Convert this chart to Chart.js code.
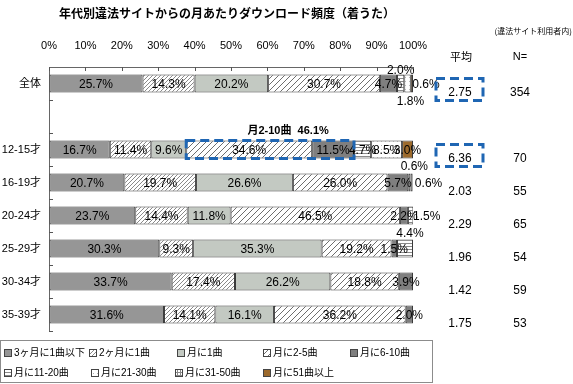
<!DOCTYPE html>
<html>
<head>
<meta charset="utf-8">
<script src="https://cdn.jsdelivr.net/npm/chart.js@4"></script>
<style>
  body { margin: 0; background: #fff; }
  #wrap { width: 573px; height: 384px; position: relative; }
</style>
</head>
<body>
<div id="wrap"><canvas id="c"></canvas></div>
<script>
// ==== data ====
const categories = ['全体', '', '12-15才', '16-19才', '20-24才', '25-29才', '30-34才', '35-39才'];
const seriesNames = ['3ヶ月に1曲以下', '2ヶ月に1曲', '月に1曲', '月に2-5曲', '月に6-10曲',
                     '月に11-20曲', '月に21-30曲', '月に31-50曲', '月に51曲以上'];
const v3months  = [25.7, null, 16.7, 20.7, 23.7, 30.3, 33.7, 31.6];
const v2months  = [14.3, null, 11.4, 19.7, 14.4,  9.3, 17.4, 14.1];
const v1        = [20.2, null,  9.6, 26.6, 11.8, 35.3, 26.2, 16.1];
const v2to5     = [30.7, null, 34.6, 26.0, 46.5, 19.2, 18.8, 36.2];
const v6to10    = [ 4.7, null, 11.5,  5.7,  2.2,  1.5,  3.9,  2.0];
const v11to20   = [ 2.0, null,  4.7,  0.6,  1.5,  4.4,  0,    0  ];
const v21to30   = [ 1.8, null,  8.5,  0.6,  0,    0,    0,    0  ];
const v31to50   = [ 0,   null,  0,    0,    0,    0,    0,    0  ];
const v51plus   = [ 0.6, null,  3.0,  0,    0,    0,    0,    0  ];
const avgValues = ['2.75', '', '6.36', '2.03', '2.29', '1.96', '1.42', '1.75'];
const nCounts   = ['354', '', '70', '55', '65', '54', '59', '53'];
const xTicks    = [0, 10, 20, 30, 40, 50, 60, 70, 80, 90, 100];

// small labels that Excel moved off their segment (row-series)
const labelNudge = {
  '0-5': {dx: 0, dy: -14}, '0-6': {dx: 3, dy: 17}, '0-8': {dx: 14, dy: 0},
  '3-5': {dx: 5, dy: -17}, '3-6': {dx: 17, dy: 0},
  '4-5': {dx: 16, dy: 0},  '5-5': {dx: 5, dy: -16}
};

const NUM_FONT = "'Liberation Sans', Arial, sans-serif";
const JP_FONT = "'Liberation Sans', 'Noto Sans CJK JP', sans-serif";

// ==== fill patterns ====
function makePattern(size, bg, fg, pixels) {
  const c = document.createElement('canvas');
  c.width = size; c.height = size;
  const g = c.getContext('2d');
  g.fillStyle = bg; g.fillRect(0, 0, size, size);
  g.fillStyle = fg;
  pixels.forEach(p => g.fillRect(p[0], p[1], 1, 1));
  return g.createPattern(c, 'repeat');
}
const patFineDiag = makePattern(4, '#fff', '#8a8a8a', [[0,3],[1,2],[2,1],[3,0]]);
const patWideDiag = makePattern(6, '#fff', '#6e6e6e', [[0,5],[1,4],[2,3],[3,2],[4,1],[5,0]]);
const patHLines = makePattern(3, '#fff', '#8a8a8a', [[0,0],[1,0],[2,0]]);
const patDots = makePattern(4, '#fff', '#b0b0b0', [[1,1]]);
const patGrid = makePattern(3, '#fff', '#8a8a8a', [[0,0],[1,0],[2,0],[0,1],[0,2]]);

const fills = ['#969696', patFineDiag, '#c3c9c2', patWideDiag, '#7f7f7f',
               patHLines, patDots, patGrid, '#9c6a2c'];
const seriesData = [v3months, v2months, v1, v2to5, v6to10, v11to20, v21to30, v31to50, v51plus];

const datasets = seriesData.map((d, i) => ({
  label: seriesNames[i],
  data: d,
  backgroundColor: fills[i],
  borderColor: '#3a3a3a',
  borderWidth: 1,
  borderSkipped: false,
  barPercentage: 0.55,
  categoryPercentage: 1
}));

// ==== extra drawing ====
const extrasPlugin = {
  id: 'extras',
  afterDatasetsDraw(chart) {
    const ctx = chart.ctx;
    const xs = chart.scales.x, ys = chart.scales.y;
    const area = chart.chartArea;
    ctx.save();

    // inside tick marks
    ctx.strokeStyle = '#555';
    ctx.lineWidth = 1;
    xTicks.forEach(t => {
      const px = Math.round(xs.getPixelForValue(t)) + 0.5;
      ctx.beginPath(); ctx.moveTo(px, area.top); ctx.lineTo(px, area.top + 4); ctx.stroke();
    });
    const step = ys.getPixelForValue(1) - ys.getPixelForValue(0);
    for (let i = 0; i < categories.length; i++) {
      const py = Math.round(ys.getPixelForValue(i) + step / 2) + 0.5;
      ctx.beginPath(); ctx.moveTo(area.left, py); ctx.lineTo(area.left + 4, py); ctx.stroke();
    }

    // segment labels
    ctx.fillStyle = '#000';
    ctx.font = '12px ' + NUM_FONT;
    ctx.textAlign = 'center';
    ctx.textBaseline = 'middle';
    chart.data.datasets.forEach((ds, s) => {
      chart.getDatasetMeta(s).data.forEach((bar, i) => {
        const v = ds.data[i];
        if (!v) return;
        const n = labelNudge[i + '-' + s] || {dx: 0, dy: 0};
        const cx = (bar.x + bar.base) / 2 + n.dx;
        ctx.fillText(v.toFixed(1) + '%', cx, bar.y + n.dy + 1);
      });
    });

    // average and N columns
    ctx.font = '12px ' + NUM_FONT;
    categories.forEach((c, i) => {
      const py = ys.getPixelForValue(i) + 9;
      ctx.fillText(avgValues[i], 460, py);
      ctx.fillText(nCounts[i], 520, py);
    });
    ctx.font = '11px ' + JP_FONT;
    ctx.fillText('平均', 461, 58);
    ctx.fillText('N=', 520, 57);

    // highlight: 月2-10曲 on 12-15才
    const b0 = chart.getDatasetMeta(3).data[2];
    const b1 = chart.getDatasetMeta(4).data[2];
    const sum = v2to5[2] + v6to10[2];
    ctx.strokeStyle = '#1f66b3';
    ctx.lineWidth = 3;
    ctx.setLineDash([9, 5]);
    const top = b0.y - b0.height / 2, bot = b0.y + b0.height / 2;
    ctx.strokeRect(b0.base, top, b1.x - b0.base, bot - top);
    [0, 2].forEach(i => {
      const py = ys.getPixelForValue(i);
      ctx.strokeRect(436, py - 5, 47, 22);
    });
    ctx.setLineDash([]);
    ctx.font = 'bold 11px ' + JP_FONT;
    ctx.fillStyle = '#000';
    ctx.fillText('月2-10曲  ' + sum.toFixed(1) + '%', (b0.base + b1.x) / 2 + 18, top - 9);

    // title
    ctx.font = 'bold 12px "Noto Sans CJK JP", sans-serif';
    ctx.fillText('年代別違法サイトからの月あたりダウンロード頻度（着うた）', 227, 13);
    ctx.font = '8px "Noto Sans CJK JP", sans-serif';
    ctx.textAlign = 'right';
    ctx.fillText('(違法サイト利用者内)', 572, 31);

    // legend
    ctx.strokeStyle = '#8c8c8c';
    ctx.lineWidth = 1;
    ctx.strokeRect(0.5, 340.5, 432, 42);
    const legendCols = [[4, 89, 177, 263, 350], [4, 91, 175, 263]];
    const legendRows = [353, 373];
    let k = 0;
    ctx.textAlign = 'left';
    ctx.font = '10px ' + JP_FONT;
    legendCols.forEach((cols, r) => {
      cols.forEach(lx => {
        const ly = legendRows[r];
        ctx.fillStyle = fills[k];
        ctx.fillRect(lx, ly - 4, 7, 7);
        ctx.strokeStyle = '#444';
        ctx.strokeRect(lx + 0.5, ly - 3.5, 7, 7);
        ctx.fillStyle = '#000';
        ctx.fillText(seriesNames[k], lx + 10, ly);
        k++;
      });
    });
    ctx.restore();
  }
};

new Chart(document.getElementById('c'), {
  type: 'bar',
  data: { labels: categories, datasets: datasets },
  options: {
    indexAxis: 'y',
    responsive: true,
    maintainAspectRatio: false,
    animation: false,
    layout: { padding: { top: 36, right: 160, bottom: 53, left: 0 } },
    plugins: { legend: { display: false }, tooltip: { enabled: false }, title: { display: false } },
    scales: {
      x: {
        position: 'top',
        stacked: true,
        min: 0, max: 100,
        afterFit: s => { s.height = 31; },
        afterBuildTicks: s => { s.ticks = xTicks.map(v => ({value: v})); },
        grid: { display: true, drawOnChartArea: false, drawTicks: false },
        border: { display: true, color: '#666' },
        ticks: { padding: 14, color: '#000', maxRotation: 0, minRotation: 0, autoSkip: false,
                 font: { family: NUM_FONT, size: 11 }, callback: v => v + '%' }
      },
      y: {
        stacked: true,
        afterFit: s => { s.width = 49; },
        grid: { display: false, drawTicks: false },
        border: { display: true, color: '#666' },
        ticks: { padding: 8, color: '#000', font: { family: JP_FONT, size: 11 } }
      }
    }
  },
  plugins: [extrasPlugin]
});
</script>
</body>
</html>
